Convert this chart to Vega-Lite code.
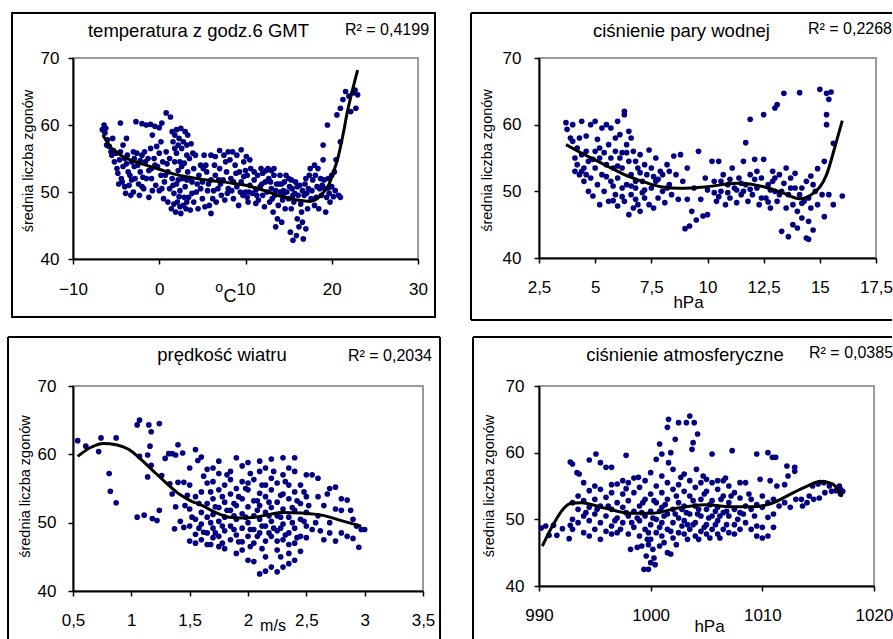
{
"$schema": "https://vega.github.io/schema/vega-lite/v6.json",
"padding": {"left": 6, "top": 10, "right": 0, "bottom": 0},
"background": "white",
"datasets": {
"d1": [{"x":-6.6,"y":59.3},{"x":-6.4,"y":60},{"x":-6.2,"y":59.5},{"x":-6.3,"y":58.8},{"x":-6,"y":57.8},{"x":-6.1,"y":57},{"x":-5.8,"y":56.8},{"x":-5.6,"y":56},{"x":-5.5,"y":55.5},{"x":-5.3,"y":56.2},{"x":-5,"y":55.8},{"x":-5.2,"y":54.5},{"x":-4.9,"y":53.5},{"x":-4.8,"y":52.8},{"x":-4.6,"y":54.8},{"x":-4.5,"y":56},{"x":-4.4,"y":52},{"x":-4.3,"y":51.5},{"x":-4.2,"y":53.8},{"x":-4,"y":55},{"x":-4,"y":50.8},{"x":-4.5,"y":60.3},{"x":-3.8,"y":58},{"x":-3.7,"y":55.5},{"x":-3.6,"y":53},{"x":-3.5,"y":51},{"x":-3.4,"y":52.5},{"x":-3.3,"y":49.5},{"x":-3.2,"y":54.5},{"x":-3,"y":50},{"x":-3,"y":56},{"x":-2.7,"y":60.5},{"x":-2.8,"y":52},{"x":-2.6,"y":55.8},{"x":-2.5,"y":54},{"x":-2.4,"y":51.2},{"x":-2.3,"y":49.5},{"x":-2.2,"y":53},{"x":-2,"y":55.5},{"x":-2,"y":60.2},{"x":-1.8,"y":50.5},{"x":-1.7,"y":56},{"x":-1.6,"y":54.5},{"x":-1.5,"y":60},{"x":-1.5,"y":52},{"x":-1.3,"y":55},{"x":-1.2,"y":49.2},{"x":-1,"y":56.5},{"x":-1,"y":60.1},{"x":-0.9,"y":53.5},{"x":-0.8,"y":58.5},{"x":-0.6,"y":55},{"x":-0.5,"y":59.8},{"x":-0.4,"y":51},{"x":-0.3,"y":56.8},{"x":-0.2,"y":53.8},{"x":0,"y":50.2},{"x":0,"y":59.6},{"x":0,"y":55.8},{"x":0.2,"y":52.5},{"x":0.3,"y":60.3},{"x":0.4,"y":54.5},{"x":0.5,"y":49},{"x":0.6,"y":51.5},{"x":0.8,"y":61.8},{"x":0.8,"y":56},{"x":1,"y":48.5},{"x":1,"y":53},{"x":1.2,"y":55},{"x":1.3,"y":61.2},{"x":1.2,"y":50.5},{"x":1.4,"y":47.5},{"x":1.5,"y":59},{"x":1.5,"y":52},{"x":1.6,"y":57.5},{"x":1.7,"y":49.8},{"x":1.8,"y":58.5},{"x":1.8,"y":54.5},{"x":1.9,"y":47},{"x":2,"y":59.3},{"x":2,"y":51.2},{"x":2,"y":55.8},{"x":2.1,"y":48.5},{"x":2.2,"y":53.2},{"x":2.3,"y":58},{"x":2.4,"y":50.2},{"x":2.5,"y":59.5},{"x":2.5,"y":46.8},{"x":2.6,"y":56.5},{"x":2.7,"y":52},{"x":2.8,"y":48},{"x":2.9,"y":54.3},{"x":3,"y":59},{"x":3,"y":50.8},{"x":3.1,"y":47.5},{"x":3.2,"y":57},{"x":3.3,"y":58.5},{"x":3.3,"y":53},{"x":3.4,"y":49.2},{"x":3.5,"y":55},{"x":3.6,"y":47.3},{"x":3.7,"y":57.2},{"x":3.8,"y":51.5},{"x":4,"y":53.5},{"x":4,"y":48.5},{"x":4.2,"y":55.5},{"x":4.3,"y":50},{"x":4.5,"y":47.5},{"x":4.6,"y":52.5},{"x":4.8,"y":54},{"x":5,"y":49},{"x":5,"y":51.5},{"x":5.2,"y":55.5},{"x":5.3,"y":47.8},{"x":5.5,"y":53},{"x":5.6,"y":50.2},{"x":5.8,"y":48},{"x":6,"y":55.5},{"x":6,"y":46.8},{"x":6,"y":51.8},{"x":6.2,"y":49},{"x":6.4,"y":54},{"x":6.5,"y":52.5},{"x":6.6,"y":48.5},{"x":6.8,"y":50.5},{"x":7,"y":56.2},{"x":7,"y":53.5},{"x":7.2,"y":49.5},{"x":7.4,"y":51.8},{"x":7.5,"y":55.5},{"x":7.6,"y":48.8},{"x":7.8,"y":53},{"x":8,"y":56},{"x":8,"y":50.5},{"x":8.3,"y":52},{"x":8.5,"y":56},{"x":8.6,"y":49},{"x":8.8,"y":54},{"x":9,"y":50.8},{"x":9,"y":55.5},{"x":9.2,"y":48},{"x":9.3,"y":53},{"x":9.5,"y":56.3},{"x":9.5,"y":51.5},{"x":9.7,"y":49.5},{"x":9.8,"y":54.5},{"x":10,"y":50},{"x":10.1,"y":55.3},{"x":10.2,"y":52.5},{"x":10.3,"y":48.5},{"x":10.5,"y":51},{"x":10.6,"y":53.5},{"x":10.8,"y":49.8},{"x":11,"y":51.8},{"x":11.2,"y":50.3},{"x":11.4,"y":52.5},{"x":11.5,"y":48.8},{"x":11.7,"y":50.8},{"x":12,"y":52.8},{"x":12,"y":49.5},{"x":12.2,"y":47.8},{"x":12.3,"y":51.5},{"x":12.5,"y":50},{"x":12.7,"y":52},{"x":12.8,"y":48.5},{"x":13,"y":53.2},{"x":13,"y":50.5},{"x":13.2,"y":47},{"x":13.3,"y":52.5},{"x":13.4,"y":49.5},{"x":13.5,"y":44.8},{"x":13.6,"y":51.2},{"x":13.7,"y":46},{"x":13.8,"y":48},{"x":14,"y":52.5},{"x":14,"y":50},{"x":14.2,"y":45.5},{"x":14.3,"y":48.8},{"x":14.5,"y":51.5},{"x":14.6,"y":47.5},{"x":14.8,"y":50},{"x":15,"y":52},{"x":15,"y":49},{"x":15.2,"y":44},{"x":15.3,"y":47.5},{"x":15.4,"y":50.5},{"x":15.5,"y":42.8},{"x":15.6,"y":48.5},{"x":15.8,"y":51.5},{"x":15.9,"y":43.5},{"x":16,"y":46},{"x":16.1,"y":49.5},{"x":16.2,"y":44.8},{"x":16.3,"y":51},{"x":16.5,"y":47},{"x":16.6,"y":45.5},{"x":16.7,"y":43},{"x":16.8,"y":49.5},{"x":17,"y":44.5},{"x":17,"y":52},{"x":17.2,"y":47.5},{"x":17.3,"y":50.5},{"x":17.5,"y":53.5},{"x":17.6,"y":49},{"x":17.8,"y":51.8},{"x":18,"y":48},{"x":18,"y":54},{"x":18.3,"y":50.8},{"x":18.4,"y":53.5},{"x":18.5,"y":47.5},{"x":18.7,"y":52},{"x":18.8,"y":49.5},{"x":19,"y":54.8},{"x":19,"y":57},{"x":19.2,"y":50.5},{"x":19.3,"y":47},{"x":19.5,"y":60},{"x":19.6,"y":52},{"x":19.8,"y":48.5},{"x":20,"y":50.8},{"x":20.2,"y":49.3},{"x":20.3,"y":53},{"x":20.5,"y":54.8},{"x":20.6,"y":61.5},{"x":20.8,"y":49.5},{"x":21,"y":49.2},{"x":21,"y":57.5},{"x":21,"y":62.5},{"x":21.3,"y":63.8},{"x":21.6,"y":65},{"x":22,"y":64.3},{"x":22.2,"y":62},{"x":22.5,"y":64.8},{"x":22.8,"y":62.5},{"x":23,"y":64.5},{"x":22.7,"y":65.2},{"x":-4.7,"y":51.2},{"x":-3.9,"y":49.8},{"x":-2.9,"y":53.8},{"x":-1.9,"y":52.2},{"x":-0.8,"y":50.2},{"x":0.2,"y":57.5},{"x":0.9,"y":54.2},{"x":1.6,"y":51},{"x":2.3,"y":49.3},{"x":2.4,"y":54.5},{"x":3.2,"y":51.8},{"x":3.9,"y":55.8},{"x":4.4,"y":51.2},{"x":5.1,"y":53.5},{"x":5.7,"y":51.2},{"x":6.3,"y":50.2},{"x":7.1,"y":51.2},{"x":7.9,"y":49.8},{"x":8.6,"y":51.5},{"x":9.4,"y":50},{"x":10.4,"y":50},{"x":11.2,"y":48.3},{"x":11.9,"y":51.2},{"x":12.6,"y":53.5},{"x":13.1,"y":49},{"x":13.9,"y":51.2},{"x":14.4,"y":50.2},{"x":15.1,"y":50.8},{"x":15.7,"y":49.8},{"x":16.4,"y":48.2},{"x":17.1,"y":49.8},{"x":18.1,"y":52.5},{"x":19.1,"y":51.8},{"x":19.7,"y":49.8},{"x":1.8,"y":56.5},{"x":2.2,"y":57},{"x":2.8,"y":57.5},{"x":3.2,"y":55.5},{"x":2.6,"y":53.8},{"x":2.2,"y":51.8},{"x":3.5,"y":52},{"x":3.8,"y":49.8},{"x":2.9,"y":49.2},{"x":1.7,"y":48.2},{"x":3.2,"y":48.5},{"x":2.4,"y":47.8},{"x":10.5,"y":54.8},{"x":10,"y":53.2},{"x":9.8,"y":52.3},{"x":10.2,"y":49.2},{"x":11,"y":53},{"x":11.8,"y":53.5},{"x":11.3,"y":49.5},{"x":12.4,"y":53.2},{"x":12.9,"y":51.5},{"x":13.5,"y":50.2},{"x":13.3,"y":53.5},{"x":14.2,"y":51.2},{"x":14.7,"y":52.5},{"x":14.4,"y":49.5},{"x":15.3,"y":51.8},{"x":15.5,"y":49.5},{"x":16,"y":50.8},{"x":16.6,"y":50.2},{"x":16.9,"y":51.2},{"x":17.4,"y":52.5},{"x":17.7,"y":50.2},{"x":18.2,"y":49.2},{"x":18.6,"y":50.5},{"x":18.9,"y":51},{"x":19.4,"y":49.2},{"x":19.6,"y":50.6},{"x":20,"y":52.5},{"x":20.4,"y":50.2},{"x":-3.8,"y":54.2},{"x":-2.9,"y":55},{"x":-2.2,"y":54.7},{"x":-1.2,"y":53.2},{"x":-0.5,"y":54},{"x":0.7,"y":52.5},{"x":0.3,"y":50.5},{"x":-0.9,"y":52},{"x":-2,"y":50.8},{"x":-3.2,"y":51.8},{"x":-4.2,"y":57},{"x":-5.4,"y":58},{"x":5.4,"y":54},{"x":6.5,"y":55.3},{"x":7.7,"y":54.5},{"x":8.2,"y":54.8},{"x":8.9,"y":52.8},{"x":4.8,"y":50.5},{"x":6.9,"y":51.8},{"x":8.4,"y":50.2}],
"c1": [{"x":-6.55,"y":58.5},{"x":-5.5,"y":56.5},{"x":-4.2,"y":55.3},{"x":-2,"y":54.2},{"x":0,"y":53.4},{"x":2,"y":52.6},{"x":4,"y":52.1},{"x":6,"y":51.7},{"x":8,"y":51.4},{"x":10,"y":51},{"x":12,"y":50.3},{"x":14,"y":49.4},{"x":16,"y":48.8},{"x":17.5,"y":48.6},{"x":18.5,"y":49.2},{"x":19.2,"y":50.2},{"x":19.7,"y":51.2},{"x":20.2,"y":53},{"x":20.7,"y":55},{"x":21.3,"y":58.5},{"x":21.8,"y":61.9},{"x":22.4,"y":65.2},{"x":23,"y":68.2}],
"d2": [{"x":3.7,"y":60.3},{"x":3.75,"y":59.3},{"x":3.9,"y":58},{"x":4,"y":60},{"x":4,"y":57.5},{"x":4.1,"y":55},{"x":4.1,"y":53},{"x":4.2,"y":56.5},{"x":4.2,"y":54},{"x":4.3,"y":52.5},{"x":4.3,"y":58},{"x":4.4,"y":60.5},{"x":4.4,"y":55.5},{"x":4.5,"y":53.5},{"x":4.5,"y":51.5},{"x":4.6,"y":56},{"x":4.7,"y":50},{"x":4.7,"y":54.5},{"x":4.8,"y":60},{"x":4.8,"y":52},{"x":4.9,"y":49.3},{"x":5,"y":56},{"x":5,"y":53.5},{"x":5,"y":60.5},{"x":5.1,"y":51},{"x":5.1,"y":57.8},{"x":5.2,"y":48},{"x":5.2,"y":55},{"x":5.3,"y":59.5},{"x":5.3,"y":52.5},{"x":5.4,"y":50},{"x":5.5,"y":54},{"x":5.5,"y":60},{"x":5.6,"y":57},{"x":5.6,"y":48.5},{"x":5.7,"y":51.5},{"x":5.7,"y":59.5},{"x":5.8,"y":53.5},{"x":5.9,"y":49.5},{"x":5.9,"y":56},{"x":6,"y":60.5},{"x":6,"y":47.8},{"x":6,"y":52},{"x":6.1,"y":55},{"x":6.1,"y":58.5},{"x":6.2,"y":50.5},{"x":6.2,"y":53.5},{"x":6.3,"y":61.5},{"x":6.3,"y":62},{"x":6.3,"y":48.5},{"x":6.4,"y":57},{"x":6.4,"y":51},{"x":6.5,"y":59},{"x":6.5,"y":46.5},{"x":6.5,"y":54.5},{"x":6.6,"y":49.5},{"x":6.6,"y":52.5},{"x":6.7,"y":47.5},{"x":6.7,"y":56},{"x":6.8,"y":50.5},{"x":6.9,"y":48},{"x":6.9,"y":53.5},{"x":7,"y":55.5},{"x":7,"y":47},{"x":7.1,"y":51.5},{"x":7.2,"y":49},{"x":7.2,"y":54},{"x":7.3,"y":52.5},{"x":7.4,"y":56.2},{"x":7.4,"y":48},{"x":7.5,"y":50.5},{"x":7.5,"y":53.5},{"x":7.6,"y":47.5},{"x":7.7,"y":55},{"x":7.7,"y":51.5},{"x":7.8,"y":49},{"x":7.9,"y":53},{"x":8,"y":50},{"x":8,"y":52.5},{"x":8.1,"y":48.3},{"x":8.2,"y":54},{"x":8.3,"y":51},{"x":8.4,"y":49.5},{"x":8.5,"y":55.3},{"x":8.6,"y":52.5},{"x":8.7,"y":48.8},{"x":8.8,"y":55.5},{"x":8.9,"y":51.5},{"x":9,"y":44.4},{"x":9.1,"y":48.8},{"x":9.1,"y":53.5},{"x":9.2,"y":44.8},{"x":9.3,"y":47},{"x":9.4,"y":50.5},{"x":9.5,"y":45.7},{"x":9.6,"y":56},{"x":9.7,"y":48.8},{"x":9.8,"y":46.3},{"x":9.9,"y":52},{"x":10,"y":46.5},{"x":10,"y":50.2},{"x":10.2,"y":54.5},{"x":10.3,"y":51.5},{"x":10.4,"y":48.5},{"x":10.5,"y":54.5},{"x":10.6,"y":50},{"x":10.7,"y":52.5},{"x":10.8,"y":48},{"x":10.9,"y":51},{"x":11,"y":49},{"x":11.1,"y":53.5},{"x":11.2,"y":50.5},{"x":11.3,"y":48.3},{"x":11.4,"y":52},{"x":11.5,"y":49.5},{"x":11.6,"y":54.5},{"x":11.7,"y":57.3},{"x":11.7,"y":51},{"x":11.8,"y":48.5},{"x":11.9,"y":60.8},{"x":11.9,"y":52.5},{"x":12,"y":49.5},{"x":12.1,"y":54.8},{"x":12.2,"y":50.5},{"x":12.3,"y":48},{"x":12.4,"y":52},{"x":12.5,"y":61.5},{"x":12.5,"y":54.8},{"x":12.6,"y":49},{"x":12.7,"y":51},{"x":12.8,"y":47.5},{"x":12.9,"y":53},{"x":13,"y":62.5},{"x":13,"y":50},{"x":13.1,"y":63},{"x":13.1,"y":48.5},{"x":13.2,"y":52.5},{"x":13.3,"y":44},{"x":13.3,"y":50},{"x":13.4,"y":64.7},{"x":13.5,"y":53.5},{"x":13.5,"y":47.5},{"x":13.6,"y":43.2},{"x":13.6,"y":49.5},{"x":13.7,"y":52},{"x":13.8,"y":45},{"x":13.8,"y":48},{"x":13.9,"y":50.5},{"x":14,"y":44.5},{"x":14,"y":47},{"x":14.1,"y":64.8},{"x":14.1,"y":49.5},{"x":14.2,"y":46},{"x":14.3,"y":48.5},{"x":14.4,"y":43},{"x":14.4,"y":51.5},{"x":14.5,"y":42.8},{"x":14.5,"y":45.5},{"x":14.5,"y":49},{"x":14.6,"y":52.3},{"x":14.6,"y":47.5},{"x":14.7,"y":44.2},{"x":14.8,"y":50},{"x":14.9,"y":53.4},{"x":14.9,"y":48},{"x":15,"y":65.3},{"x":15.1,"y":49.5},{"x":15.2,"y":54.5},{"x":15.2,"y":46.2},{"x":15.3,"y":64.7},{"x":15.3,"y":61.5},{"x":15.3,"y":60},{"x":15.4,"y":63.8},{"x":15.4,"y":49.5},{"x":15.5,"y":64.9},{"x":15.6,"y":57.2},{"x":15.6,"y":48},{"x":16,"y":49.3},{"x":4.6,"y":52.5},{"x":5.4,"y":55.8},{"x":5.8,"y":50.8},{"x":6.2,"y":55.8},{"x":6.6,"y":58},{"x":6.8,"y":51.5},{"x":7.1,"y":49.8},{"x":7.6,"y":52.2},{"x":8.3,"y":53},{"x":10.5,"y":49.2},{"x":11,"y":51.8},{"x":11.6,"y":50},{"x":12.2,"y":53},{"x":12.8,"y":50.2},{"x":13.4,"y":51.2},{"x":14.2,"y":50.5},{"x":4.6,"y":58.3},{"x":5.2,"y":56.5},{"x":5.7,"y":55},{"x":6.4,"y":55.8},{"x":5.9,"y":58},{"x":4.9,"y":54.8},{"x":4.4,"y":53},{"x":5.5,"y":52.2},{"x":6,"y":53.8},{"x":6.6,"y":50.8},{"x":6.8,"y":54.5},{"x":7.2,"y":50.2},{"x":7.8,"y":51.8},{"x":8.2,"y":50.5},{"x":7,"y":52.8},{"x":6.2,"y":49.2},{"x":5.8,"y":48.6},{"x":6.8,"y":48.8},{"x":10.6,"y":51.5},{"x":11.3,"y":50.2},{"x":11.9,"y":50.3},{"x":12.4,"y":49},{"x":12.9,"y":51.5},{"x":13.2,"y":49.5},{"x":13.7,"y":50.5},{"x":14.2,"y":48.2},{"x":10.9,"y":49.8},{"x":12.1,"y":51.8},{"x":13,"y":52},{"x":11.5,"y":51.2},{"x":13.9,"y":52.7},{"x":14.7,"y":51},{"x":12.7,"y":48.4},{"x":10.3,"y":49.8}],
"c2": [{"x":3.7,"y":57},{"x":4.3,"y":55.9},{"x":5,"y":54.7},{"x":5.7,"y":53.5},{"x":6.3,"y":52.5},{"x":7,"y":51.6},{"x":7.9,"y":50.7},{"x":8.8,"y":50.45},{"x":10,"y":50.7},{"x":11.3,"y":51.2},{"x":12.5,"y":50.7},{"x":13.4,"y":49.7},{"x":14.1,"y":48.9},{"x":14.7,"y":49.7},{"x":15.3,"y":52.5},{"x":15.7,"y":57},{"x":16,"y":60.6}],
"d3": [{"x":0.54,"y":62},{"x":0.61,"y":61.2},{"x":0.72,"y":60.4},{"x":0.74,"y":62.4},{"x":0.87,"y":62.4},{"x":0.81,"y":57.2},{"x":0.82,"y":54.6},{"x":0.87,"y":52.9},{"x":1.05,"y":50.8},{"x":1.11,"y":51.1},{"x":1.05,"y":64.3},{"x":1.07,"y":65},{"x":1.15,"y":64.3},{"x":1.17,"y":63.3},{"x":1.24,"y":64.5},{"x":1.16,"y":61.2},{"x":1.07,"y":59.7},{"x":1.14,"y":59.9},{"x":1.17,"y":58.4},{"x":1.14,"y":56.7},{"x":1.18,"y":50.6},{"x":1.22,"y":50.3},{"x":1.24,"y":51.8},{"x":1.26,"y":56.9},{"x":1.29,"y":59.4},{"x":1.32,"y":60.1},{"x":1.35,"y":60.1},{"x":1.38,"y":59.9},{"x":1.4,"y":61.4},{"x":1.44,"y":60.2},{"x":1.33,"y":55.7},{"x":1.35,"y":54.2},{"x":1.4,"y":55.9},{"x":1.45,"y":55.9},{"x":1.38,"y":52.3},{"x":1.37,"y":49.1},{"x":1.42,"y":50.2},{"x":1.45,"y":49.3},{"x":1.46,"y":52.5},{"x":1.48,"y":54},{"x":1.5,"y":58},{"x":1.5,"y":49.5},{"x":1.5,"y":52},{"x":1.5,"y":55.5},{"x":1.5,"y":47.3},{"x":1.55,"y":48.3},{"x":1.55,"y":50.5},{"x":1.55,"y":53.8},{"x":1.55,"y":60.7},{"x":1.55,"y":47},{"x":1.6,"y":47.5},{"x":1.6,"y":49.8},{"x":1.6,"y":51.5},{"x":1.6,"y":54.5},{"x":1.57,"y":59.1},{"x":1.6,"y":59.6},{"x":1.65,"y":48.5},{"x":1.65,"y":50.8},{"x":1.65,"y":52.8},{"x":1.65,"y":55.8},{"x":1.65,"y":57.8},{"x":1.65,"y":46.8},{"x":1.7,"y":47.8},{"x":1.7,"y":49.2},{"x":1.7,"y":51.2},{"x":1.7,"y":53.5},{"x":1.7,"y":56},{"x":1.7,"y":58},{"x":1.75,"y":48},{"x":1.75,"y":50.2},{"x":1.75,"y":52.2},{"x":1.75,"y":54.8},{"x":1.75,"y":57.2},{"x":1.75,"y":59},{"x":1.8,"y":46.2},{"x":1.8,"y":48.8},{"x":1.8,"y":50.8},{"x":1.8,"y":53},{"x":1.8,"y":55.5},{"x":1.85,"y":47.5},{"x":1.85,"y":49.5},{"x":1.85,"y":51.8},{"x":1.85,"y":54.2},{"x":1.85,"y":56.3},{"x":1.85,"y":57.5},{"x":1.9,"y":45.5},{"x":1.9,"y":48.2},{"x":1.9,"y":50.5},{"x":1.9,"y":52.5},{"x":1.9,"y":55},{"x":1.9,"y":59.5},{"x":1.95,"y":47.2},{"x":1.95,"y":49.2},{"x":1.95,"y":51.3},{"x":1.95,"y":53.5},{"x":1.95,"y":56},{"x":1.95,"y":58.3},{"x":2,"y":44.5},{"x":2,"y":48},{"x":2,"y":50},{"x":2,"y":52.3},{"x":2,"y":54.8},{"x":2,"y":55.8},{"x":2,"y":58.8},{"x":2.05,"y":44.3},{"x":2.05,"y":47},{"x":2.05,"y":49},{"x":2.05,"y":51},{"x":2.05,"y":53.2},{"x":2.05,"y":56.3},{"x":2.1,"y":42.5},{"x":2.1,"y":48.5},{"x":2.1,"y":50.5},{"x":2.1,"y":52.5},{"x":2.1,"y":54.3},{"x":2.1,"y":57.5},{"x":2.1,"y":59},{"x":2.15,"y":42.9},{"x":2.15,"y":47.3},{"x":2.15,"y":49.5},{"x":2.15,"y":51.5},{"x":2.15,"y":53.8},{"x":2.15,"y":55.5},{"x":2.15,"y":58},{"x":2.2,"y":43.5},{"x":2.2,"y":48},{"x":2.2,"y":50.2},{"x":2.2,"y":52.2},{"x":2.2,"y":54.8},{"x":2.2,"y":56.5},{"x":2.2,"y":59.3},{"x":2.25,"y":42.8},{"x":2.25,"y":46},{"x":2.25,"y":48.8},{"x":2.25,"y":51},{"x":2.25,"y":53},{"x":2.25,"y":55.8},{"x":2.3,"y":43.5},{"x":2.3,"y":47.5},{"x":2.3,"y":49.8},{"x":2.3,"y":52},{"x":2.3,"y":54.2},{"x":2.3,"y":57},{"x":2.3,"y":59.5},{"x":2.35,"y":44},{"x":2.35,"y":45.5},{"x":2.35,"y":48.5},{"x":2.35,"y":50.8},{"x":2.35,"y":53.5},{"x":2.35,"y":55.5},{"x":2.35,"y":58},{"x":2.4,"y":44.5},{"x":2.4,"y":47},{"x":2.4,"y":49.2},{"x":2.4,"y":51.8},{"x":2.4,"y":54.5},{"x":2.4,"y":57.5},{"x":2.4,"y":59.5},{"x":2.45,"y":45.8},{"x":2.45,"y":48},{"x":2.45,"y":50.5},{"x":2.45,"y":52.8},{"x":2.45,"y":55.5},{"x":2.5,"y":47.8},{"x":2.5,"y":49.5},{"x":2.5,"y":51.5},{"x":2.5,"y":53.8},{"x":2.5,"y":57},{"x":2.55,"y":57},{"x":2.6,"y":56.5},{"x":2.55,"y":49},{"x":2.6,"y":51},{"x":2.6,"y":53.8},{"x":2.65,"y":52.5},{"x":2.65,"y":47.5},{"x":2.7,"y":55},{"x":2.7,"y":50},{"x":2.7,"y":48.5},{"x":2.75,"y":55.2},{"x":2.75,"y":47.3},{"x":2.75,"y":52},{"x":2.8,"y":53.5},{"x":2.8,"y":48.5},{"x":2.8,"y":51.8},{"x":2.85,"y":53.3},{"x":2.85,"y":48},{"x":2.88,"y":51.8},{"x":2.9,"y":50.5},{"x":2.9,"y":47.7},{"x":2.93,"y":49.5},{"x":2.95,"y":46.4},{"x":2.97,"y":49},{"x":3,"y":49},{"x":1.62,"y":48.6},{"x":1.68,"y":50},{"x":1.72,"y":52.3},{"x":1.78,"y":49.5},{"x":1.82,"y":51.8},{"x":1.88,"y":49},{"x":1.92,"y":53.8},{"x":1.98,"y":50.8},{"x":2.02,"y":49},{"x":2.08,"y":51.8},{"x":2.12,"y":49.5},{"x":2.18,"y":51},{"x":2.22,"y":49.2},{"x":2.28,"y":50.8},{"x":2.32,"y":48.2},{"x":2.38,"y":50},{"x":2.42,"y":53.2},{"x":2.48,"y":50.2},{"x":1.78,"y":47},{"x":2.02,"y":46.5},{"x":2.12,"y":46.2},{"x":2.28,"y":45},{"x":1.52,"y":50.8},{"x":1.58,"y":52.8},{"x":1.62,"y":56.8},{"x":1.68,"y":54.5},{"x":1.72,"y":48.5},{"x":1.78,"y":53.8},{"x":1.82,"y":57},{"x":1.88,"y":52.8},{"x":1.92,"y":47.2},{"x":1.98,"y":55},{"x":2.02,"y":57.2},{"x":2.08,"y":53.2},{"x":2.12,"y":55.5},{"x":2.18,"y":53},{"x":2.22,"y":57.5},{"x":2.28,"y":54},{"x":2.32,"y":56},{"x":2.38,"y":52.2},{"x":2.42,"y":47.8},{"x":2.48,"y":54.5},{"x":2.52,"y":52.5},{"x":2.58,"y":50},{"x":2.62,"y":48.8},{"x":2.68,"y":54.2},{"x":1.75,"y":46.5},{"x":1.95,"y":46},{"x":2.15,"y":45},{"x":2.25,"y":47.3},{"x":2.35,"y":46.8},{"x":1.88,"y":51},{"x":2.08,"y":48},{"x":2.18,"y":48.5},{"x":2.28,"y":49.2},{"x":1.58,"y":49.2},{"x":1.68,"y":46.8}],
"c3": [{"x":0.54,"y":59.7},{"x":0.65,"y":61},{"x":0.76,"y":61.6},{"x":0.87,"y":61.4},{"x":0.98,"y":60.7},{"x":1.08,"y":59.3},{"x":1.18,"y":57.7},{"x":1.3,"y":55.8},{"x":1.41,"y":54.2},{"x":1.51,"y":53.2},{"x":1.61,"y":52.5},{"x":1.72,"y":51.5},{"x":1.84,"y":50.8},{"x":1.95,"y":50.7},{"x":2.06,"y":50.8},{"x":2.18,"y":51.2},{"x":2.29,"y":51.5},{"x":2.46,"y":51.4},{"x":2.63,"y":51.1},{"x":2.8,"y":50.3},{"x":2.97,"y":49.5}],
"d4": [{"x":990.2,"y":48.7},{"x":990.6,"y":49},{"x":990.9,"y":47.6},{"x":991.3,"y":49.1},{"x":991.6,"y":47.6},{"x":992.1,"y":48.6},{"x":992.7,"y":47.1},{"x":992.8,"y":49.1},{"x":992.8,"y":58.6},{"x":993,"y":58.3},{"x":993,"y":50},{"x":993,"y":52.5},{"x":993,"y":48.5},{"x":993.5,"y":51.5},{"x":993.5,"y":49.5},{"x":993.5,"y":53.5},{"x":993.4,"y":57},{"x":993.6,"y":56.8},{"x":994,"y":48},{"x":994,"y":50.5},{"x":994,"y":52.8},{"x":994,"y":55.5},{"x":994.5,"y":49.8},{"x":994.5,"y":51.8},{"x":994.5,"y":54.3},{"x":994.5,"y":58.9},{"x":994.5,"y":47.5},{"x":995,"y":48.5},{"x":995,"y":50.8},{"x":995,"y":53},{"x":995,"y":55},{"x":995.1,"y":59.8},{"x":995.5,"y":47},{"x":995.5,"y":49.5},{"x":995.5,"y":52},{"x":995.5,"y":54.5},{"x":995.5,"y":58.5},{"x":996,"y":48.2},{"x":996,"y":50.5},{"x":996,"y":53.3},{"x":996,"y":57.8},{"x":996.5,"y":49},{"x":996.5,"y":51.5},{"x":996.5,"y":54},{"x":996.5,"y":57.8},{"x":996.5,"y":47.8},{"x":997,"y":48},{"x":997,"y":50.2},{"x":997,"y":52.5},{"x":997,"y":55.3},{"x":997.5,"y":49.5},{"x":997.5,"y":51.8},{"x":997.5,"y":53.8},{"x":997.5,"y":55.8},{"x":998,"y":47.8},{"x":998,"y":50.5},{"x":998,"y":52.8},{"x":998,"y":55.5},{"x":997.8,"y":59.6},{"x":998.2,"y":45.5},{"x":998.5,"y":48.8},{"x":998.5,"y":51.2},{"x":998.5,"y":54},{"x":998.5,"y":56.2},{"x":998.8,"y":45.8},{"x":999,"y":47.5},{"x":999,"y":49.8},{"x":999,"y":52},{"x":999,"y":54.8},{"x":999.2,"y":46},{"x":999.5,"y":48.5},{"x":999.5,"y":50.5},{"x":999.5,"y":53},{"x":999.5,"y":55.8},{"x":999.4,"y":42.5},{"x":999.6,"y":44.5},{"x":999.7,"y":47},{"x":1000,"y":47},{"x":1000,"y":49.2},{"x":1000,"y":51.2},{"x":1000,"y":53.8},{"x":1000,"y":57},{"x":999.8,"y":42.5},{"x":1000,"y":43.5},{"x":1000.2,"y":45.5},{"x":1000.5,"y":48},{"x":1000.5,"y":50},{"x":1000.5,"y":52.5},{"x":1000.5,"y":55},{"x":1000.5,"y":59},{"x":1000.4,"y":43.2},{"x":1000.3,"y":44.2},{"x":1001,"y":47.5},{"x":1001,"y":49.5},{"x":1001,"y":51.8},{"x":1001,"y":54},{"x":1001,"y":56.5},{"x":1001,"y":59.8},{"x":1000.8,"y":61.3},{"x":1001.5,"y":48.5},{"x":1001.5,"y":50.8},{"x":1001.5,"y":53},{"x":1001.5,"y":55.5},{"x":1001.5,"y":63.8},{"x":1001.5,"y":45},{"x":1001.6,"y":58.5},{"x":1002,"y":47.2},{"x":1002,"y":49.5},{"x":1002,"y":51.5},{"x":1002,"y":54.5},{"x":1002,"y":57.5},{"x":1001.8,"y":60},{"x":1001.6,"y":65},{"x":1001.8,"y":44.8},{"x":1002.5,"y":48},{"x":1002.5,"y":50.2},{"x":1002.5,"y":52.5},{"x":1002.5,"y":55.2},{"x":1002.2,"y":62},{"x":1002.5,"y":64.5},{"x":1003,"y":47.8},{"x":1003,"y":49.8},{"x":1003,"y":52},{"x":1003,"y":54.2},{"x":1003,"y":56.8},{"x":1003.2,"y":64.5},{"x":1003.5,"y":48.5},{"x":1003.5,"y":50.8},{"x":1003.5,"y":53.5},{"x":1003.5,"y":55.8},{"x":1003.7,"y":60.5},{"x":1003.5,"y":65.5},{"x":1004,"y":47.5},{"x":1004,"y":49.5},{"x":1004,"y":52},{"x":1004,"y":54.8},{"x":1004.1,"y":57.5},{"x":1003.8,"y":61.5},{"x":1004.2,"y":62.8},{"x":1003.9,"y":64.5},{"x":1004.5,"y":48.2},{"x":1004.5,"y":50.5},{"x":1004.5,"y":53},{"x":1004.5,"y":55.5},{"x":1005,"y":47.8},{"x":1005,"y":49.2},{"x":1005,"y":51.5},{"x":1005,"y":54.2},{"x":1005,"y":56},{"x":1005.5,"y":48.5},{"x":1005.5,"y":50.5},{"x":1005.5,"y":52.8},{"x":1005.5,"y":55.5},{"x":1005.5,"y":59.8},{"x":1006,"y":47.8},{"x":1006,"y":49.8},{"x":1006,"y":51.8},{"x":1006,"y":54.5},{"x":1006.5,"y":48.5},{"x":1006.5,"y":51},{"x":1006.5,"y":53.5},{"x":1006.5,"y":55.8},{"x":1006.7,"y":56.2},{"x":1007,"y":48},{"x":1007,"y":50.5},{"x":1007,"y":52.5},{"x":1007,"y":55},{"x":1007.3,"y":60.3},{"x":1007.5,"y":49.2},{"x":1007.5,"y":51.5},{"x":1007.5,"y":54},{"x":1007.5,"y":47.8},{"x":1008,"y":48.5},{"x":1008,"y":51},{"x":1008,"y":53.2},{"x":1008,"y":55.5},{"x":1008.5,"y":49.5},{"x":1008.5,"y":52},{"x":1008.5,"y":55.5},{"x":1009,"y":48.5},{"x":1009,"y":51.5},{"x":1009,"y":53},{"x":1009.5,"y":47.5},{"x":1009.5,"y":49},{"x":1009.5,"y":52.2},{"x":1009.5,"y":59.8},{"x":1010,"y":47.2},{"x":1010,"y":48.8},{"x":1010,"y":51.8},{"x":1010,"y":53.5},{"x":1009.8,"y":56},{"x":1010.5,"y":47.5},{"x":1010.5,"y":50.3},{"x":1010.5,"y":52.5},{"x":1010.7,"y":55.8},{"x":1010.5,"y":60},{"x":1011,"y":48.8},{"x":1011,"y":50.8},{"x":1011,"y":53},{"x":1011.3,"y":55},{"x":1010.9,"y":59.3},{"x":1011.5,"y":52},{"x":1011.2,"y":59.3},{"x":1012,"y":52.5},{"x":1012,"y":55.2},{"x":1012.3,"y":56.5},{"x":1012.2,"y":58},{"x":1012.5,"y":51.8},{"x":1012.9,"y":57.8},{"x":1012.9,"y":57.2},{"x":1013,"y":53},{"x":1013.5,"y":53},{"x":1013.6,"y":52},{"x":1014,"y":52.5},{"x":1014.2,"y":53.5},{"x":1014.5,"y":55},{"x":1014.6,"y":53},{"x":1015,"y":55.3},{"x":1015.1,"y":53.2},{"x":1015.5,"y":55.5},{"x":1015.6,"y":54},{"x":1016,"y":55},{"x":1016.2,"y":54.2},{"x":1016.6,"y":54.3},{"x":1017,"y":53.8},{"x":1017,"y":54.5},{"x":1016.9,"y":55},{"x":1017.2,"y":54.2},{"x":998.3,"y":49.5},{"x":999.2,"y":51},{"x":999.8,"y":48},{"x":1000.2,"y":50.2},{"x":1000.8,"y":48.8},{"x":1001.2,"y":50.5},{"x":1001.8,"y":48.2},{"x":1002.2,"y":50.8},{"x":1002.8,"y":49},{"x":1003.2,"y":51},{"x":1003.8,"y":49.2},{"x":1004.2,"y":50.8},{"x":1004.8,"y":48.8},{"x":1005.2,"y":50.2},{"x":1005.8,"y":49.2},{"x":1006.2,"y":50.5},{"x":1006.8,"y":49.2},{"x":994.2,"y":51},{"x":995.2,"y":51.5},{"x":996.2,"y":52},{"x":996.8,"y":49.8},{"x":997.3,"y":48.5},{"x":997.8,"y":51},{"x":998.8,"y":50.2},{"x":999.3,"y":52.5},{"x":1000.3,"y":52.8},{"x":1000.8,"y":51.2},{"x":1001.3,"y":52.2},{"x":1002.3,"y":53.5},{"x":1002.8,"y":51.5},{"x":1003.3,"y":49.2},{"x":1003.8,"y":52.8},{"x":1004.3,"y":51.5},{"x":1004.8,"y":53.8},{"x":1005.3,"y":52.2},{"x":1005.8,"y":51.2},{"x":1006.3,"y":53},{"x":1006.8,"y":51.2},{"x":1007.2,"y":53.5},{"x":1007.8,"y":50},{"x":1008.3,"y":50.8},{"x":1008.8,"y":53.8},{"x":1009.3,"y":50.5},{"x":1001.2,"y":46.5},{"x":1002.3,"y":46.2},{"x":1003.3,"y":47},{"x":1004.3,"y":47},{"x":1005.3,"y":47.2},{"x":999.8,"y":46.2},{"x":1000.8,"y":46},{"x":1006.2,"y":47.2},{"x":996.5,"y":55.2},{"x":997.8,"y":54.6},{"x":998.9,"y":56.3},{"x":1002.7,"y":56.3},{"x":1004.7,"y":56.5},{"x":1006,"y":55.8}],
"c4": [{"x":990.3,"y":46},{"x":991.35,"y":49.45},{"x":992.1,"y":51.4},{"x":992.85,"y":52.4},{"x":993.75,"y":52.5},{"x":995.85,"y":51.7},{"x":998.26,"y":50.9},{"x":1000.06,"y":50.9},{"x":1002.46,"y":51.7},{"x":1004.86,"y":52.2},{"x":1007.26,"y":51.9},{"x":1009.06,"y":51.9},{"x":1010.86,"y":52.4},{"x":1012.66,"y":53.9},{"x":1014.17,"y":55.1},{"x":1015.2,"y":55.7},{"x":1016.3,"y":55.3},{"x":1017.15,"y":53.4}]
},
"config": {
  "font": "Liberation Sans",
  "view": {"stroke": "#9a9a9a", "strokeWidth": 2},
  "axis": {"grid": false, "domainColor": "black", "domainWidth": 2, "tickColor": "black", "tickWidth": 1.5, "tickSize": 5, "labelFont": "Liberation Sans", "labelFontSize": 17, "labelColor": "black", "labelFlush": false, "labelOverlap": false, "titleFont": "Liberation Sans", "titleFontWeight": "normal", "titleColor": "black"},
  "text": {"font": "Liberation Sans", "color": "black"}
},
"columns": 2,
"spacing": {"row": 127, "column": 116},
"bounds": "flush",
"concat": [
{
  "width": 345, "height": 201,
  "layer": [
    {"data": {"name": "d1"}, "mark": {"type": "circle", "size": 32, "color": "#000080", "opacity": 1},
     "encoding": {
       "x": {"field": "x", "type": "quantitative", "scale": {"domain": [-10, 30], "nice": false, "zero": false},
             "axis": {"values": [-10, 0, 10, 20, 30], "title": "C", "titleFontSize": 18, "titleX": 156.5, "titleY": 42, "titleBaseline": "alphabetic", "titleAlign": "center", "labelBaseline": "alphabetic", "labelPadding": 30}},
       "y": {"field": "y", "type": "quantitative", "scale": {"domain": [40, 70], "nice": false, "zero": false},
             "axis": {"values": [40, 50, 60, 70], "title": "średnia liczba zgonów", "titleFontSize": 14.5, "titleX": -40.5, "titleY": 102.5, "titleBaseline": "alphabetic", "titleAlign": "center", "titleAngle": -90, "labelPadding": 9}}}},
    {"data": {"name": "c1"}, "mark": {"type": "line", "color": "black", "strokeWidth": 3, "interpolate": "monotone"},
     "encoding": {"x": {"field": "x", "type": "quantitative"}, "y": {"field": "y", "type": "quantitative"}}},
    {"data": {"values": [{}]}, "mark": {"type": "rect", "filled": false, "color": "black", "strokeWidth": 2},
     "encoding": {"x": {"datum": -17.07}, "x2": {"datum": 31.97}, "y": {"datum": 76.72}, "y2": {"datum": 31.34}}},
    {"data": {"values": [{}]}, "mark": {"type": "text", "fontSize": 18.5, "align": "center", "baseline": "alphabetic"},
     "encoding": {"x": {"datum": 4.55}, "y": {"datum": 73.13}, "text": {"value": "temperatura z godz.6 GMT"}}},
    {"data": {"values": [{}]}, "mark": {"type": "text", "fontSize": 16, "align": "right", "baseline": "alphabetic"},
     "encoding": {"x": {"datum": 31.28}, "y": {"datum": 73.43}, "text": {"value": "R² = 0,4199"}}},
    {"data": {"values": [{}]}, "mark": {"type": "text", "fontSize": 14, "align": "center", "baseline": "alphabetic"},
     "encoding": {"x": {"datum": 6.95}, "y": {"datum": 35.07}, "text": {"value": "o"}}}
  ]
},
{
  "width": 337, "height": 200,
  "layer": [
    {"data": {"name": "d2"}, "mark": {"type": "circle", "size": 32, "color": "#000080", "opacity": 1},
     "encoding": {
       "x": {"field": "x", "type": "quantitative", "scale": {"domain": [2.5, 17.5], "nice": false, "zero": false},
             "axis": {"values": [2.5, 5, 7.5, 10, 12.5, 15, 17.5], "labelExpr": "replace(toString(datum.value), '.', ',')", "title": "hPa", "titleFontSize": 17, "titleX": 149, "titleY": 49, "titleBaseline": "alphabetic", "titleAlign": "center", "labelBaseline": "alphabetic", "labelPadding": 29}},
       "y": {"field": "y", "type": "quantitative", "scale": {"domain": [40, 70], "nice": false, "zero": false},
             "axis": {"values": [40, 50, 60, 70], "title": "średnia liczba zgonów", "titleFontSize": 14.5, "titleX": -48, "titleY": 102, "titleBaseline": "alphabetic", "titleAlign": "center", "titleAngle": -90, "labelPadding": 13}}}},
    {"data": {"name": "c2"}, "mark": {"type": "line", "color": "black", "strokeWidth": 3, "interpolate": "monotone"},
     "encoding": {"x": {"field": "x", "type": "quantitative"}, "y": {"field": "y", "type": "quantitative"}}},
    {"data": {"values": [{}]}, "mark": {"type": "rule", "color": "black", "strokeWidth": 2},
     "encoding": {"x": {"datum": -0.527}, "y": {"datum": 76.75}, "y2": {"datum": 30.7}}},
    {"data": {"values": [{}]}, "mark": {"type": "rule", "color": "black", "strokeWidth": 2},
     "encoding": {"x": {"datum": -0.527}, "x2": {"datum": 18.21}, "y": {"datum": 76.75}}},
    {"data": {"values": [{}]}, "mark": {"type": "rule", "color": "black", "strokeWidth": 2},
     "encoding": {"x": {"datum": -0.527}, "x2": {"datum": 18.21}, "y": {"datum": 30.7}}},
    {"data": {"values": [{}]}, "mark": {"type": "text", "fontSize": 18.5, "align": "center", "baseline": "alphabetic"},
     "encoding": {"x": {"datum": 8.84}, "y": {"datum": 73.15}, "text": {"value": "ciśnienie pary wodnej"}}},
    {"data": {"values": [{}]}, "mark": {"type": "text", "fontSize": 16, "align": "left", "baseline": "alphabetic"},
     "encoding": {"x": {"datum": 14.47}, "y": {"datum": 73.6}, "text": {"value": "R² = 0,2268"}}}
  ]
},
{
  "width": 350, "height": 205,
  "layer": [
    {"data": {"name": "d3"}, "mark": {"type": "circle", "size": 32, "color": "#000080", "opacity": 1},
     "encoding": {
       "x": {"field": "x", "type": "quantitative", "scale": {"domain": [0.5, 3.5], "nice": false, "zero": false},
             "axis": {"values": [0.5, 1, 1.5, 2, 2.5, 3, 3.5], "labelExpr": "replace(toString(datum.value), '.', ',')", "title": "m/s", "titleFontSize": 16, "titleX": 199.5, "titleY": 39, "titleBaseline": "alphabetic", "titleAlign": "center", "labelBaseline": "alphabetic", "labelPadding": 29}},
       "y": {"field": "y", "type": "quantitative", "scale": {"domain": [40, 70], "nice": false, "zero": false},
             "axis": {"values": [40, 50, 60, 70], "title": "średnia liczba zgonów", "titleFontSize": 14.5, "titleX": -43.3, "titleY": 100, "titleBaseline": "alphabetic", "titleAlign": "center", "titleAngle": -90, "labelPadding": 12}}}},
    {"data": {"name": "c3"}, "mark": {"type": "line", "color": "black", "strokeWidth": 3, "interpolate": "monotone"},
     "encoding": {"x": {"field": "x", "type": "quantitative"}, "y": {"field": "y", "type": "quantitative"}}},
    {"data": {"values": [{}]}, "mark": {"type": "rule", "color": "black", "strokeWidth": 2},
     "encoding": {"x": {"datum": -0.057}, "x2": {"datum": 3.646}, "y": {"datum": 77.17}}},
    {"data": {"values": [{}]}, "mark": {"type": "rule", "color": "black", "strokeWidth": 2},
     "encoding": {"x": {"datum": -0.057}, "y": {"datum": 77.17}, "y2": {"datum": 32.83}}},
    {"data": {"values": [{}]}, "mark": {"type": "rule", "color": "black", "strokeWidth": 2},
     "encoding": {"x": {"datum": 3.646}, "y": {"datum": 77.17}, "y2": {"datum": 32.83}}},
    {"data": {"values": [{}]}, "mark": {"type": "text", "fontSize": 18.5, "align": "center", "baseline": "alphabetic"},
     "encoding": {"x": {"datum": 1.777}, "y": {"datum": 73.61}, "text": {"value": "prędkość wiatru"}}},
    {"data": {"values": [{}]}, "mark": {"type": "text", "fontSize": 16, "align": "right", "baseline": "alphabetic"},
     "encoding": {"x": {"datum": 3.577}, "y": {"datum": 73.61}, "text": {"value": "R² = 0,2034"}}}
  ]
},
{
  "width": 335, "height": 200,
  "layer": [
    {"data": {"name": "d4"}, "mark": {"type": "circle", "size": 32, "color": "#000080", "opacity": 1},
     "encoding": {
       "x": {"field": "x", "type": "quantitative", "scale": {"domain": [990, 1020], "nice": false, "zero": false},
             "axis": {"values": [990, 1000, 1010, 1020], "format": "d", "title": "hPa", "titleFontSize": 17, "titleX": 170, "titleY": 45, "titleBaseline": "alphabetic", "titleAlign": "center", "labelBaseline": "alphabetic", "labelPadding": 29}},
       "y": {"field": "y", "type": "quantitative", "scale": {"domain": [40, 70], "nice": false, "zero": false},
             "axis": {"values": [40, 50, 60, 70], "title": "średnia liczba zgonów", "titleFontSize": 14.5, "titleX": -45.3, "titleY": 99.5, "titleBaseline": "alphabetic", "titleAlign": "center", "titleAngle": -90, "labelPadding": 10}}}},
    {"data": {"name": "c4"}, "mark": {"type": "line", "color": "black", "strokeWidth": 3, "interpolate": "monotone"},
     "encoding": {"x": {"field": "x", "type": "quantitative"}, "y": {"field": "y", "type": "quantitative"}}},
    {"data": {"values": [{}]}, "mark": {"type": "rule", "color": "black", "strokeWidth": 2},
     "encoding": {"x": {"datum": 984.09}, "x2": {"datum": 1021.61}, "y": {"datum": 77.35}}},
    {"data": {"values": [{}]}, "mark": {"type": "rule", "color": "black", "strokeWidth": 2},
     "encoding": {"x": {"datum": 984.09}, "y": {"datum": 77.35}, "y2": {"datum": 31.9}}},
    {"data": {"values": [{}]}, "mark": {"type": "text", "fontSize": 18.5, "align": "center", "baseline": "alphabetic"},
     "encoding": {"x": {"datum": 1003.07}, "y": {"datum": 73.75}, "text": {"value": "ciśnienie atmosferyczne"}}},
    {"data": {"values": [{}]}, "mark": {"type": "text", "fontSize": 16, "align": "left", "baseline": "alphabetic"},
     "encoding": {"x": {"datum": 1014.18}, "y": {"datum": 74.2}, "text": {"value": "R² = 0,0385"}}}
  ]
}
]
}
